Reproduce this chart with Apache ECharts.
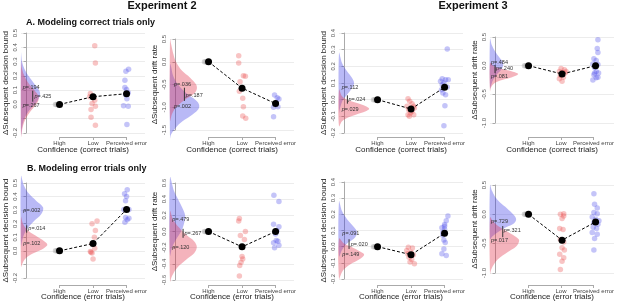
<!DOCTYPE html>
<html>
<head>
<meta charset="utf-8">
<script src="https://cdn.jsdelivr.net/npm/echarts@6/dist/echarts.min.js"></script>
<style>
    html, body {margin: 0; padding: 0; background: #fff;}
    #main {width: 617px; height: 302px;}
</style>
</head>
<body>
<div id="main"></div>
<script>
    // x categories (High = 1, Low = 2, Perceived error = 3)
    var categories = ['High', 'Low', 'Perceived error'];
    // every subject is 0 at the reference level
    var highPoints = [[0.88, 0], [0.93, 0]];

    // ---- A. correct trials, Experiment 2, decision bound ----
    var a1Low = [[2.05, 0.41], [2.07, 0.29], [1.92, 0.077], [1.9, 0.054], [2.05, 0.03], [1.97, 0.007], [2.07, -0.012], [1.94, -0.035], [1.94, -0.09], [2.07, -0.145]];
    var a1Err = [[3.06, 0.247], [2.98, 0.233], [2.95, 0.17], [2.95, 0.119], [3.0, 0.105], [3.05, 0.082], [2.97, 0.07], [3.01, 0.04], [2.91, -0.009], [3.05, -0.012], [3.01, -0.14]];
    var a1Mean = [0, 0.054, 0.075];
    var a1Blue = [[0.36, 0], [0.3, 0.03], [0.25, 0.1], [0.2, 0.22], [0.15, 0.38], [0.1, 0.54], [0.07, 0.57], [0.03, 0.5], [0, 0.4], [-0.05, 0.22], [-0.1, 0.1], [-0.15, 0.04], [-0.2, 0.01], [-0.22, 0]];
    var a1Red = [[0.3, 0], [0.25, 0.03], [0.2, 0.1], [0.15, 0.22], [0.1, 0.4], [0.06, 0.52], [0.03, 0.52], [0, 0.45], [-0.05, 0.28], [-0.1, 0.14], [-0.15, 0.06], [-0.2, 0.02], [-0.23, 0]];
    var a1Notes = [[0.05, 0.117, 'p=.194'], [0.05, -0.01, 'p=.267'], [0.4, 0.054, 'p=.425']];
    var a1Bar = [0.35, 0.096, 0.019];

    // ---- A. correct trials, Experiment 2, drift rate ----
    var a2Low = [[1.9, 0.13], [1.9, -0.03], [2.04, -0.31], [2.1, -0.32], [1.94, -0.44], [1.92, -0.65], [2.02, -0.8], [2.04, -0.99], [2.02, -1.19], [2.11, -1.24]];
    var a2Err = [[2.97, -0.73], [3.05, -0.79], [3.1, -0.82], [3.02, -0.9], [2.94, -1.0], [3.07, -0.99], [2.94, -1.21], [2.99, -0.93]];
    var a2Mean = [0, -0.58, -0.92];
    var a2Blue = [[-0.05, 0], [-0.1, 0.03], [-0.3, 0.09], [-0.5, 0.24], [-0.7, 0.5], [-0.85, 0.78], [-0.95, 0.87], [-1.05, 0.84], [-1.2, 0.6], [-1.35, 0.3], [-1.5, 0.12], [-1.6, 0.03], [-1.68, 0]];
    var a2Red = [[0.5, 0], [0.4, 0.03], [0.2, 0.09], [0.0, 0.18], [-0.2, 0.36], [-0.35, 0.6], [-0.5, 0.78], [-0.6, 0.8], [-0.7, 0.72], [-0.85, 0.42], [-1.0, 0.18], [-1.15, 0.06], [-1.3, 0]];
    var a2Notes = [[0.12, -0.51, 'p=.036'], [0.12, -0.98, 'p=.002'], [0.47, -0.74, 'p=.187']];
    var a2Bar = [0.43, -0.57, -0.86];

    // ---- A. correct trials, Experiment 3, decision bound ----
    var a3Low = [[1.91, 0.006], [1.96, -0.01], [2.03, -0.024], [1.88, -0.04], [2.08, -0.04], [1.93, -0.06], [2.03, -0.07], [1.98, -0.08], [1.91, -0.09], [2.08, -0.09], [1.95, -0.1], [2.1, -0.05]];
    var a3Err = [[3.08, 0.304], [2.93, 0.126], [3.03, 0.12], [3.11, 0.12], [2.88, 0.11], [2.98, 0.1], [2.93, 0.09], [3.08, 0.076], [2.91, 0.06], [2.95, 0.04], [3.03, 0.03], [3.01, -0.036], [2.98, -0.156]];
    var a3Mean = [0, -0.056, 0.074];
    var a3Blue = [[0.28, 0], [0.22, 0.09], [0.17, 0.24], [0.13, 0.39], [0.1, 0.45], [0.07, 0.39], [0.03, 0.24], [0, 0.12], [-0.05, 0.03], [-0.08, 0]];
    var a3Red = [[0.06, 0], [0.02, 0.09], [0, 0.24], [-0.02, 0.54], [-0.04, 0.8], [-0.055, 0.9], [-0.07, 0.8], [-0.09, 0.5], [-0.11, 0.24], [-0.13, 0.09], [-0.16, 0]];
    var a3Notes = [[0.08, 0.076, 'p=.112'], [0.08, -0.06, 'p=.029'], [0.28, 0.0, 'p=.024']];
    var a3Bar = [0.25, 0.026, -0.024];

    // ---- A. correct trials, Experiment 3, drift rate ----
    var a4Low = [[1.97, -0.05], [2.07, -0.07], [1.92, -0.1], [2.02, -0.12], [2.09, -0.13], [1.95, -0.17], [2.04, -0.2], [1.92, -0.23], [2.0, -0.27], [2.12, -0.1]];
    var a4Err = [[3.07, 0.45], [3.05, 0.3], [3.07, 0.23], [2.95, 0.12], [3.02, 0.09], [2.92, 0.03], [3.07, 0.02], [2.97, -0.03], [3.02, -0.1], [3.09, -0.13], [2.95, -0.16], [3.07, -0.2], [2.92, -0.25], [3.02, -0.21], [2.97, -0.13]];
    var a4Mean = [0, -0.145, 0.0];
    var a4Blue = [[0.47, 0], [0.35, 0.06], [0.25, 0.15], [0.15, 0.27], [0.05, 0.39], [-0.05, 0.36], [-0.15, 0.21], [-0.25, 0.09], [-0.35, 0.03], [-0.4, 0]];
    var a4Red = [[0.05, 0], [0, 0.09], [-0.05, 0.3], [-0.1, 0.66], [-0.145, 0.84], [-0.2, 0.66], [-0.25, 0.36], [-0.3, 0.15], [-0.38, 0.03], [-0.45, 0]];
    var a4Notes = [[0.03, 0.058, 'p=.484'], [0.03, -0.19, 'p=.081'], [0.18, -0.05, 'p=.240']];
    var a4Bar = [0.15, 0.01, -0.13];

    // ---- B. error trials, Experiment 2, decision bound ----
    var b1Low = [[2.12, 0.22], [1.97, 0.2], [2.07, 0.15], [2.04, 0.1], [1.97, 0.05], [2.05, 0.02], [1.92, -0.005], [1.97, -0.015], [2.0, -0.06], [1.94, -0.01]];
    var b1Err = [[3.02, 0.45], [2.94, 0.42], [3.0, 0.4], [2.97, 0.37], [2.92, 0.305], [3.07, 0.305], [2.97, 0.245], [3.02, 0.23], [2.95, 0.21], [3.07, 0.24]];
    var b1Mean = [0, 0.054, 0.305];
    var b1Blue = [[0.55, 0], [0.48, 0.09], [0.42, 0.24], [0.37, 0.45], [0.32, 0.66], [0.27, 0.6], [0.22, 0.39], [0.17, 0.21], [0.12, 0.09], [0.07, 0.03], [0.03, 0]];
    var b1Red = [[0.25, 0], [0.2, 0.06], [0.15, 0.21], [0.1, 0.51], [0.06, 0.75], [0.04, 0.78], [0.0, 0.54], [-0.03, 0.27], [-0.06, 0.12], [-0.1, 0.03], [-0.12, 0]];
    var b1Notes = [[0.07, 0.3, 'p=.002'], [0.07, 0.054, 'p=.102'], [0.22, 0.163, 'p=.014']];
    var b1Bar = [0.17, 0.188, 0.134];

    // ---- B. error trials, Experiment 2, drift rate ----
    var b2Low = [[1.92, 0.16], [1.9, 0.13], [2.1, 0.0], [1.95, -0.05], [2.07, -0.1], [2.0, -0.31], [2.02, -0.34], [1.97, -0.38], [1.93, -0.42], [1.92, -0.55]];
    var b2Err = [[2.95, 0.45], [3.1, 0.37], [2.94, 0.09], [3.1, 0.06], [3.04, 0.01], [3.02, -0.11], [2.94, -0.14], [3.1, -0.17], [2.97, -0.2], [3.07, -0.12], [3.0, -0.03]];
    var b2Mean = [0, -0.19, 0.0];
    var b2Blue = [[0.67, 0], [0.5, 0.12], [0.4, 0.24], [0.3, 0.36], [0.2, 0.45], [0.1, 0.42], [0.0, 0.33], [-0.1, 0.18], [-0.2, 0.06], [-0.3, 0]];
    var b2Red = [[0.25, 0], [0.15, 0.09], [0.05, 0.27], [-0.05, 0.51], [-0.12, 0.72], [-0.19, 0.8], [-0.27, 0.72], [-0.35, 0.48], [-0.45, 0.21], [-0.55, 0.06], [-0.62, 0]];
    var b2Notes = [[0.07, 0.144, 'p=.479'], [0.07, -0.193, 'p=.120'], [0.43, -0.03, 'p=.267']];
    var b2Bar = [0.39, 0.033, -0.078];

    // ---- B. error trials, Experiment 3, decision bound ----
    var b3Low = [[1.92, -0.004], [2.04, -0.008], [1.87, -0.024], [2.0, -0.034], [2.07, -0.05], [1.94, -0.065], [2.02, -0.08], [1.97, -0.095], [2.1, -0.105], [1.9, -0.044]];
    var b3Err = [[3.1, 0.19], [3.05, 0.16], [3.0, 0.137], [2.92, 0.117], [3.0, 0.107], [2.95, 0.07], [2.98, 0.042], [3.02, 0.026], [2.98, -0.014], [2.92, -0.044], [3.05, -0.055], [2.95, 0.087], [3.0, 0.127]];
    var b3Mean = [0, -0.05, 0.083];
    var b3Blue = [[0.28, 0], [0.22, 0.09], [0.17, 0.24], [0.12, 0.45], [0.087, 0.54], [0.05, 0.45], [0.02, 0.24], [-0.02, 0.09], [-0.06, 0]];
    var b3Red = [[0.05, 0], [0.02, 0.15], [0, 0.36], [-0.03, 0.63], [-0.05, 0.75], [-0.08, 0.6], [-0.11, 0.33], [-0.14, 0.15], [-0.17, 0.06], [-0.2, 0]];
    var b3Notes = [[0.1, 0.083, 'p=.091'], [0.1, -0.05, 'p=.149'], [0.35, 0.016, 'p=.020']];
    var b3Bar = [0.3, 0.046, -0.014];

    // ---- B. error trials, Experiment 3, drift rate ----
    var b4Low = [[1.95, 0.0], [2.05, -0.03], [2.0, -0.07], [1.93, -0.24], [2.03, -0.26], [1.95, -0.43], [2.05, -0.47], [2.0, -0.57], [2.07, -0.61], [1.93, -0.68], [2.05, -0.74], [2.0, -0.8], [1.95, -0.94], [1.92, -1.08], [2.05, 0.01]];
    var b4Err = [[2.95, 0.35], [2.97, 0.17], [3.05, 0.11], [2.95, 0.03], [3.05, 0.01], [2.9, -0.045], [3.0, -0.085], [3.1, -0.11], [2.95, -0.14], [3.07, -0.17], [2.93, -0.22], [3.03, -0.24], [2.9, -0.31], [3.05, -0.34], [2.97, -0.41], [2.95, -0.61]];
    var b4Mean = [0, -0.44, -0.13];
    var b4Blue = [[0.5, 0], [0.4, 0.06], [0.3, 0.15], [0.2, 0.3], [0.1, 0.51], [0.0, 0.69], [-0.08, 0.78], [-0.15, 0.72], [-0.22, 0.48], [-0.3, 0.24], [-0.38, 0.06], [-0.42, 0]];
    var b4Red = [[-0.05, 0], [-0.12, 0.09], [-0.2, 0.24], [-0.3, 0.54], [-0.4, 0.81], [-0.45, 0.87], [-0.55, 0.78], [-0.65, 0.51], [-0.75, 0.27], [-0.85, 0.12], [-0.95, 0.03], [-1.02, 0]];
    var b4Notes = [[0.03, -0.114, 'p=.729'], [0.03, -0.45, 'p=.017'], [0.41, -0.28, 'p=.321']];
    var b4Bar = [0.38, -0.2, -0.39];

    var font = '"Liberation Sans", Arial, sans-serif';
    var xMin = -0.15, xMax = 3.55, gridW = 124;
    var boundName = 'ΔSubsequent decision bound';
    var driftName = 'ΔSubsequent drift rate';

    // 面板布局
    var panels = [
        {left: 21, top: 33, h: 100, min: -0.2, max: 0.5, step: 0.1, hide: [-0.1], yName: boundName, xName: 'Confidence (correct trials)', axisY: 137, titleY: 150,
            low: a1Low, err: a1Err, mean: a1Mean, blue: a1Blue, red: a1Red, notes: a1Notes, bar: a1Bar},
        {left: 170, top: 39, h: 91, min: -1.5, max: 0.5, step: 0.5, hide: [], yName: driftName, xName: 'Confidence (correct trials)', axisY: 137, titleY: 150,
            low: a2Low, err: a2Err, mean: a2Mean, blue: a2Blue, red: a2Red, notes: a2Notes, bar: a2Bar},
        {left: 339, top: 33, h: 100, min: -0.2, max: 0.4, step: 0.1, hide: [], yName: boundName, xName: 'Confidence (correct trials)', axisY: 137, titleY: 150,
            low: a3Low, err: a3Err, mean: a3Mean, blue: a3Blue, red: a3Red, notes: a3Notes, bar: a3Bar},
        {left: 490, top: 37, h: 86, min: -1.0, max: 0.5, step: 0.5, hide: [], yName: driftName, xName: 'Confidence (correct trials)', axisY: 137, titleY: 150,
            low: a4Low, err: a4Err, mean: a4Mean, blue: a4Blue, red: a4Red, notes: a4Notes, bar: a4Bar},
        {left: 21, top: 183, h: 96, min: -0.2, max: 0.5, step: 0.1, hide: [-0.1], yName: boundName, xName: 'Confidence (error trials)', axisY: 285, titleY: 298,
            low: b1Low, err: b1Err, mean: b1Mean, blue: b1Blue, red: b1Red, notes: b1Notes, bar: b1Bar},
        {left: 170, top: 183, h: 98, min: -0.6, max: 0.6, step: 0.2, hide: [], yName: driftName, xName: 'Confidence (error trials)', axisY: 285, titleY: 298,
            low: b2Low, err: b2Err, mean: b2Mean, blue: b2Blue, red: b2Red, notes: b2Notes, bar: b2Bar},
        {left: 339, top: 182, h: 98, min: -0.2, max: 0.4, step: 0.1, hide: [], yName: boundName, xName: 'Confidence (error trials)', axisY: 285, titleY: 298,
            low: b3Low, err: b3Err, mean: b3Mean, blue: b3Blue, red: b3Red, notes: b3Notes, bar: b3Bar},
        {left: 490, top: 185, h: 89, min: -1.0, max: 0.5, step: 0.5, hide: [], yName: driftName, xName: 'Confidence (error trials)', axisY: 285, titleY: 298,
            low: b4Low, err: b4Err, mean: b4Mean, blue: b4Blue, red: b4Red, notes: b4Notes, bar: b4Bar}
    ];

    // density polygon drawn from the y axis to the right
    function densityItem(curve, color) {
        return function (params, api) {
            if (params.dataIndex !== 0) return;
            var pts = curve.map(function (d) {
                return api.coord([xMin + d[1], d[0]]);
            });
            return {type: 'polygon', shape: {points: pts, smooth: 0.35}, style: {fill: color}};
        };
    }

    // p-value labels and the little bar between them
    function notesItem(notes, bar) {
        return function (params, api) {
            if (params.dataIndex !== 0) return;
            var children = notes.map(function (n) {
                var p = api.coord([xMin + n[0], n[1]]);
                return {
                    type: 'text', x: p[0], y: p[1],
                    style: {
                        text: '{i|p}' + n[2].slice(1), fill: '#333', fontSize: 5.5, fontFamily: font,
                        verticalAlign: 'middle', align: 'left',
                        rich: {i: {fontStyle: 'italic', fontSize: 5.5, fontFamily: font, fill: '#333'}}
                    }
                };
            });
            var a = api.coord([xMin + bar[0], bar[1]]);
            var b = api.coord([xMin + bar[0], bar[2]]);
            children.push({type: 'line', shape: {x1: a[0], y1: a[1], x2: b[0], y2: b[1]}, style: {stroke: '#333', lineWidth: 1}});
            return {type: 'group', children: children};
        };
    }

    var grid = [], xAxis = [], yAxis = [], series = [];
    var unit = gridW / (xMax - xMin);

    panels.forEach(function (p, i) {
        var bottom = p.top + p.h;
        grid.push({left: p.left, top: p.top, width: gridW, height: p.h});
        xAxis.push({
            gridIndex: i, type: 'value', min: xMin, max: xMax,
            axisLine: {show: false}, axisTick: {show: false}, axisLabel: {show: false}, splitLine: {show: false},
            name: p.xName, nameLocation: 'middle', nameGap: p.titleY - 4 - bottom,
            nameTextStyle: {fontSize: 8, color: '#222', fontFamily: font}
        });
        yAxis.push({
            gridIndex: i, type: 'value', min: p.min, max: p.max, interval: p.step,
            axisLine: {show: true, lineStyle: {color: '#aaa'}},
            axisTick: {show: true, length: 2.5, lineStyle: {color: '#aaa'}},
            splitLine: {show: true, lineStyle: {color: '#ececec'}},
            axisLabel: {
                rotate: 90, fontSize: 6, color: '#555', margin: 3, fontFamily: font,
                formatter: function (v) {
                    for (var k = 0; k < p.hide.length; k++) {
                        if (Math.abs(v - p.hide[k]) < 1e-9) return '';
                    }
                    if (Math.abs(v) < 1e-9) return '0.0';
                    return v.toFixed(1);
                }
            },
            name: p.yName, nameLocation: 'middle', nameGap: 11, nameRotate: 90,
            nameTextStyle: {fontSize: 8, color: '#222', fontFamily: font}
        });

        series.push({
            type: 'custom', xAxisIndex: i, yAxisIndex: i, clip: false, silent: true, z: 1,
            renderItem: densityItem(p.blue, 'rgba(60,60,230,0.36)'), data: p.blue
        });
        series.push({
            type: 'custom', xAxisIndex: i, yAxisIndex: i, clip: false, silent: true, z: 2,
            renderItem: densityItem(p.red, 'rgba(225,45,70,0.36)'), data: p.red
        });
        series.push({
            type: 'scatter', xAxisIndex: i, yAxisIndex: i, symbolSize: 5.5, z: 3,
            itemStyle: {color: 'rgba(150,150,150,0.5)'}, data: highPoints
        });
        series.push({
            type: 'scatter', xAxisIndex: i, yAxisIndex: i, symbolSize: 5.5, z: 3,
            itemStyle: {color: 'rgba(235,80,80,0.42)'}, data: p.low
        });
        series.push({
            type: 'scatter', xAxisIndex: i, yAxisIndex: i, symbolSize: 5.5, z: 3,
            itemStyle: {color: 'rgba(80,80,235,0.42)'}, data: p.err
        });
        series.push({
            type: 'line', xAxisIndex: i, yAxisIndex: i, z: 4,
            symbol: 'circle', symbolSize: 7, itemStyle: {color: '#000'},
            lineStyle: {color: '#000', width: 1, type: [3, 2]},
            data: p.mean.map(function (m, k) { return [k + 1, m]; })
        });
        series.push({
            type: 'custom', xAxisIndex: i, yAxisIndex: i, clip: false, silent: true, z: 5,
            renderItem: notesItem(p.notes, p.bar), data: [[0, 0]]
        });
    });

    // R-style x axis that spans only High..Perceived error
    panels.forEach(function (p, i) {
        var gi = panels.length + i;
        grid.push({left: p.left + (1 - xMin) * unit, top: p.axisY - 1, width: 2 * unit, height: 1});
        xAxis.push({
            gridIndex: gi, type: 'value', min: 1, max: 3, interval: 1,
            axisLine: {show: true, lineStyle: {color: '#aaa'}},
            axisTick: {show: true, length: 3, lineStyle: {color: '#aaa'}},
            splitLine: {show: false},
            axisLabel: {
                fontSize: 6, color: '#444', margin: 3, fontFamily: font,
                formatter: function (v) { return categories[v - 1]; }
            }
        });
        yAxis.push({gridIndex: gi, type: 'value', show: false, min: 0, max: 1});
    });

    var chart = echarts.init(document.getElementById('main'));
    chart.setOption({
        animation: false,
        textStyle: {fontFamily: font},
        graphic: [
            {type: 'text', x: 162, y: 6, style: {text: 'Experiment 2', font: 'bold 11px ' + font, fill: '#111', align: 'center', verticalAlign: 'middle'}},
            {type: 'text', x: 473, y: 6, style: {text: 'Experiment 3', font: 'bold 11px ' + font, fill: '#111', align: 'center', verticalAlign: 'middle'}},
            {type: 'text', x: 26, y: 23, style: {text: 'A. Modeling correct trials only', font: 'bold 9px ' + font, fill: '#111', align: 'left', verticalAlign: 'middle'}},
            {type: 'text', x: 27, y: 169, style: {text: 'B. Modeling error trials only', font: 'bold 9px ' + font, fill: '#111', align: 'left', verticalAlign: 'middle'}}
        ],
        grid: grid,
        xAxis: xAxis,
        yAxis: yAxis,
        series: series
    });
</script>
</body>
</html>
